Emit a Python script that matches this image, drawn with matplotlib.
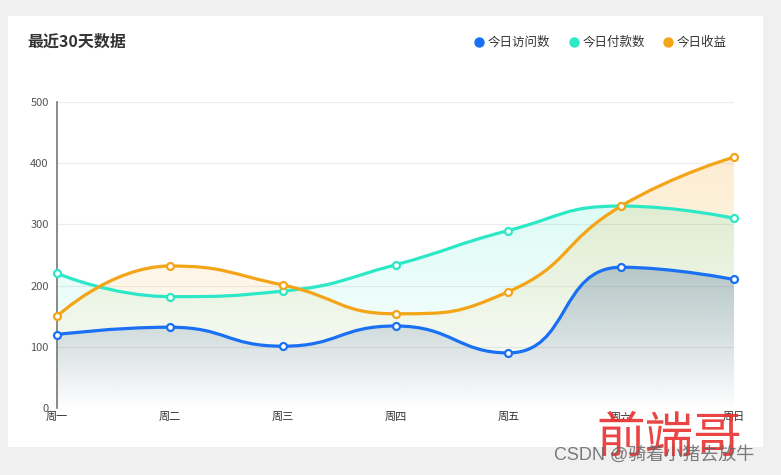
import numpy as np
import matplotlib
matplotlib.use("Agg")
import matplotlib.pyplot as plt
from matplotlib.path import Path
from matplotlib.patches import PathPatch, Rectangle
from matplotlib.colors import to_rgb

plt.rcParams['font.family'] = ['Noto Sans CJK SC', 'DejaVu Sans']

categories = ['周一', '周二', '周三', '周四', '周五', '周六', '周日']
visits = [120, 132, 101, 134, 90, 230, 210]
payments = [220, 182, 191, 234, 290, 330, 310]
income = [150, 232, 201, 154, 190, 330, 410]
series_names = ['今日访问数', '今日付款数', '今日收益']
colors = ['#1a70f5', '#2ce8c6', '#f4a517']
y_ticks = [0, 100, 200, 300, 400, 500]
title = '最近30天数据'

W, H = 781, 475
fig = plt.figure(figsize=(W / 100, H / 100), dpi=100)
fig.patch.set_facecolor('#f0f0f0')

bg = fig.add_axes([0, 0, 1, 1], zorder=-5)
bg.set_xlim(0, W)
bg.set_ylim(H, 0)
bg.axis('off')
bg.add_patch(Rectangle((8, 16), 755, 431, facecolor='white', edgecolor='none'))

L, R, T, B = 57, 734, 102, 408
ax = fig.add_axes([L / W, (H - B) / H, (R - L) / W, (B - T) / H], zorder=1)
ax.set_facecolor('none')

sx = (R - L) / (len(categories) - 1)
sy = (B - T) / 500.0


def clamp(v, a, b):
    lo, hi = min(a, b), max(a, b)
    return min(max(v, lo), hi)


def smooth_path(xs, ys, smooth=0.5):
    px = np.array(xs, float) * sx
    py = np.array(ys, float) * sy
    n = len(px)
    cps = []
    for i in range(n):
        if i == 0 or i == n - 1:
            cps.append(((px[i], py[i]), (px[i], py[i])))
            continue
        x, y = px[i], py[i]
        x0, y0 = px[i - 1], py[i - 1]
        x2, y2 = px[i + 1], py[i + 1]
        vx, vy = x2 - x0, y2 - y0
        d0 = np.hypot(x - x0, y - y0)
        d1 = np.hypot(x2 - x, y2 - y)
        r = d1 / (d0 + d1)
        ox, oy = x + vx * smooth * r, y + vy * smooth * r
        ox, oy = clamp(ox, x, x2), clamp(oy, y, y2)
        ix, iy = x - (ox - x) * d0 / d1, y - (oy - y) * d0 / d1
        ix, iy = clamp(ix, x0, x), clamp(iy, y0, y)
        ox, oy = x + (x - ix) * d1 / d0, y + (y - iy) * d1 / d0
        cps.append(((ix, iy), (ox, oy)))
    verts = [(px[0], py[0])]
    codes = [Path.MOVETO]
    for i in range(n - 1):
        verts += [cps[i][1], cps[i + 1][0], (px[i + 1], py[i + 1])]
        codes += [Path.CURVE4] * 3
    verts = [(a / sx, b / sy) for a, b in verts]
    return verts, codes


for yt in y_ticks[1:]:
    ax.axhline(yt, color='#ececec', lw=0.8, zorder=0.5)
ax.axhline(0, color='#e6e6e6', lw=0.8, zorder=0.5)

xs = np.arange(len(categories))
data = [visits, payments, income]
alphas = [0.30, 0.16, 0.20]
fill_rgb = ['#2f4c98', colors[1], colors[2]]
for k, (vals, c) in enumerate(zip(data, colors)):
    verts, codes = smooth_path(xs, vals)
    av = verts + [(xs[-1], 0), (xs[0], 0), verts[0]]
    ac = codes + [Path.LINETO, Path.LINETO, Path.CLOSEPOLY]
    area = PathPatch(Path(av, ac), facecolor='none', edgecolor='none')
    ax.add_patch(area)
    top = max(vals)
    grad = np.zeros((256, 1, 4))
    grad[:, 0, :3] = to_rgb(fill_rgb[k])
    grad[:, 0, 3] = np.linspace(alphas[k], 0.0, 256)
    im = ax.imshow(grad, extent=[xs[0], xs[-1], 0, top], origin='upper',
                   aspect='auto', zorder=1 + k * 0.1, interpolation='bilinear')
    im.set_clip_path(area)
    line = PathPatch(Path(verts, codes), facecolor='none', edgecolor=c, lw=2.3,
                     zorder=3 + k * 0.1, capstyle='round', joinstyle='round')
    ax.add_patch(line)
    ax.plot(xs, vals, linestyle='none', marker='o', ms=5, mfc='white', mec=c,
            mew=1.6, zorder=4 + k * 0.1, clip_on=False)

ax.set_xlim(0, len(categories) - 1)
ax.set_ylim(0, 500)
ax.set_xticks(xs)
ax.set_xticklabels(categories, fontsize=8, color='#333333')
ax.set_yticks(y_ticks)
ax.set_yticklabels([str(v) for v in y_ticks], fontsize=8, color='#555555')
ax.tick_params(axis='x', length=0, pad=3)
ax.tick_params(axis='y', length=0, pad=6)
for s in ['top', 'right', 'bottom']:
    ax.spines[s].set_visible(False)
ax.spines['left'].set_color('#777777')
ax.spines['left'].set_linewidth(1.2)

ov = fig.add_axes([0, 0, 1, 1], zorder=5)
ov.set_xlim(0, W)
ov.set_ylim(H, 0)
ov.axis('off')
ov.patch.set_alpha(0)

ov.text(27, 42, title, fontsize=11.5, fontweight='bold', color='#333333',
        va='center', ha='left')

leg_x = [479, 574, 668]
for lx, name, c in zip(leg_x, series_names, colors):
    ov.plot([lx], [42], marker='o', ms=7.5, color=c, mec='none', linestyle='none')
    ov.text(lx + 9, 42, name, fontsize=9, color='#333333', va='center', ha='left')

ov.text(596, 438, '前端哥', fontsize=35, color='#e8302f', alpha=0.9,
        va='center', ha='left', fontweight='light')
ov.text(554, 455, 'CSDN @骑着小猪去放牛', fontsize=13, color='#666666',
        va='center', ha='left', alpha=0.85,
        family=['Liberation Sans', 'Noto Sans CJK SC'])

fig.savefig('out.png', dpi=100, facecolor=fig.get_facecolor())
